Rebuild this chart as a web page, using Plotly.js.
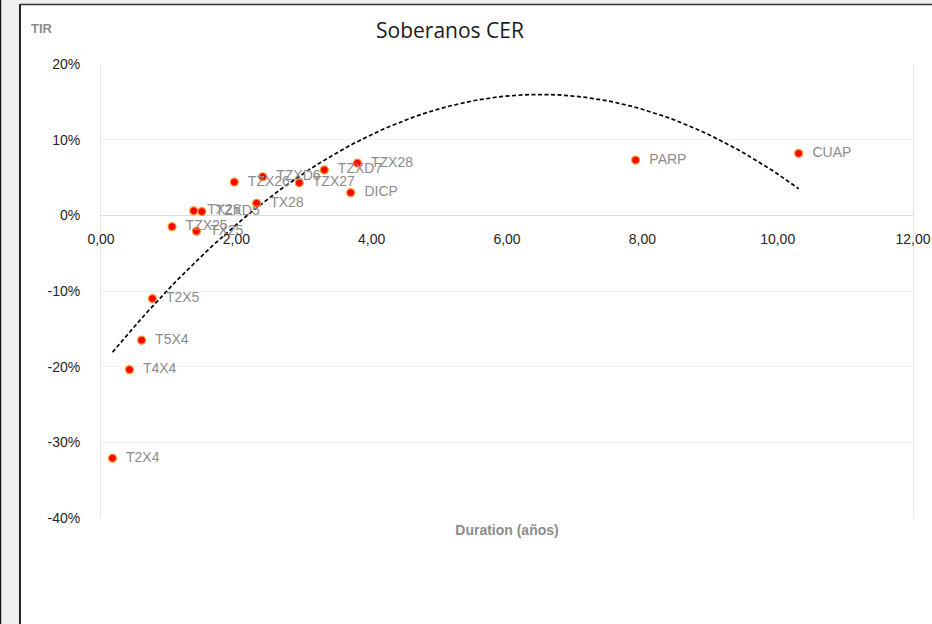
<!DOCTYPE html>
<html>
<head>
<meta charset="utf-8">
<script src="https://cdn.plot.ly/plotly-3.0.1.min.js"></script>
<style>html,body{margin:0;padding:0;background:#fff;}#chart{width:932px;height:624px;}</style>
</head>
<body>
<div id="chart"></div>
<script>
// Bond names, duration (years) and TIR (yield)
var bonds    = ["T2X4", "T4X4", "T5X4", "T2X5", "TZX25", "TX25", "TX26", "TZXD5", "TX28", "TZX26", "TZXD6", "TZX27", "TZXD7", "TZX28", "DICP", "PARP", "CUAP"];
var duration = [0.17, 0.42, 0.60, 0.76, 1.05, 1.41, 1.37, 1.49, 2.30, 1.97, 2.39, 2.93, 3.30, 3.79, 3.69, 7.90, 10.31];
var tir      = [-0.321, -0.204, -0.165, -0.110, -0.015, -0.021, 0.006, 0.005, 0.016, 0.044, 0.051, 0.043, 0.060, 0.069, 0.030, 0.073, 0.082];
var xTicks   = [0, 2, 4, 6, 8, 10, 12];
var yTicks   = [0.2, 0.1, 0, -0.1, -0.2, -0.3, -0.4];
var yTickText = ["20%", "10%", "0%", "-10%", "-20%", "-30%", "-40%"];

// Polynomial (order 2) trendline fitted to the data, as Excel does
function polyfit2(xs, ys) {
  var n = xs.length, s = [0,0,0,0,0], t = [0,0,0];
  for (var i = 0; i < n; i++) {
    var p = 1;
    for (var k = 0; k < 5; k++) { s[k] += p; if (k < 3) t[k] += p * ys[i]; p *= xs[i]; }
  }
  var A = [[s[0], s[1], s[2], t[0]], [s[1], s[2], s[3], t[1]], [s[2], s[3], s[4], t[2]]];
  for (var c = 0; c < 3; c++) {
    for (var r = c + 1; r < 3; r++) {
      var f = A[r][c] / A[c][c];
      for (var j = c; j < 4; j++) A[r][j] -= f * A[c][j];
    }
  }
  var b = [0,0,0];
  for (var r2 = 2; r2 >= 0; r2--) {
    var v = A[r2][3];
    for (var j2 = r2 + 1; j2 < 3; j2++) v -= A[r2][j2] * b[j2];
    b[r2] = v / A[r2][r2];
  }
  return b;
}
var coef = polyfit2(duration, tir);
var xmin = Math.min.apply(null, duration), xmax = Math.max.apply(null, duration);
var trendX = [], trendY = [];
for (var i = 0; i <= 100; i++) {
  var xv = xmin + (xmax - xmin) * i / 100;
  trendX.push(xv);
  trendY.push(coef[0] + coef[1] * xv + coef[2] * xv * xv);
}

var L = 101, R = 19, T = 64, B = 106, W = 932, H = 624;
var pw = W - L - R, ph = H - T - B;
function px(x) { return (x - L) / pw; }
function py(y) { return (H - B - y) / ph; }

var traces = [
  {
    x: trendX, y: trendY, mode: "lines", type: "scatter",
    line: {color: "#000000", width: 1.7, dash: "4px,2.5px"},
    hoverinfo: "skip", showlegend: false
  },
  {
    x: duration, y: tir, text: bonds.map(function(b){ return "  " + b; }),
    mode: "markers+text", type: "scatter", textposition: "middle right",
    textfont: {family: "Liberation Sans, Arial, sans-serif", size: 14, color: "#8c8c8c"},
    marker: {color: "#ff0000", size: 8, line: {color: "#ff9a2e", width: 1.2}},
    showlegend: false, cliponaxis: false
  },
  {
    x: [], y: [], xaxis: "x2", yaxis: "y", type: "scatter", mode: "markers", showlegend: false
  }
];

var layout = {
  width: W, height: H,
  margin: {l: L, r: R, t: T, b: B, pad: 0},
  paper_bgcolor: "#ffffff", plot_bgcolor: "#ffffff",
  separators: ",.",
  font: {family: "Liberation Sans, Arial, sans-serif", color: "#262626"},
  title: {
    text: "Soberanos CER",
    font: {family: "Open Sans, Liberation Sans, sans-serif", size: 21, color: "#1a1a1a"},
    x: 450 / W, xanchor: "center", xref: "container",
    y: 1 - 31 / H, yanchor: "middle", yref: "container"
  },
  xaxis: {
    range: [0, 12], showgrid: false, zeroline: false, showticklabels: false,
    ticks: "", showline: false, fixedrange: true,
    title: {text: "<b>Duration (años)</b>", font: {size: 14, color: "#8c8c8c"}, standoff: 7},
    automargin: false
  },
  xaxis2: {
    range: [0, 12], overlaying: "x", anchor: "free",
    position: 0.4 / 0.6, side: "bottom",
    tickvals: xTicks, tickformat: ".2f", ticks: "", showgrid: false,
    zeroline: false, showline: false, ticklabelstandoff: 14,
    tickfont: {size: 14, color: "#262626"}, automargin: false
  },
  yaxis: {
    range: [-0.4, 0.2], tickvals: yTicks, ticktext: yTickText,
    showgrid: true, gridcolor: "#efefef", gridwidth: 1,
    zeroline: true, zerolinecolor: "#dcdcdc", zerolinewidth: 1,
    showline: true, linecolor: "#e6e6e6", linewidth: 1, mirror: true,
    ticks: "", ticklabelstandoff: 17,
    tickfont: {size: 14, color: "#262626"}, automargin: false
  },
  annotations: [
    {
      text: "<b>TIR</b>", xref: "paper", yref: "paper",
      x: px(42), y: py(29), xanchor: "center", yanchor: "middle",
      showarrow: false, font: {size: 13, color: "#8c8c8c"}
    }
  ],
  shapes: [
    {type: "rect", xref: "paper", yref: "paper", x0: px(0), x1: px(W), y0: py(0), y1: py(4), fillcolor: "#f0f0f0", line: {width: 0}, layer: "below"},
    {type: "rect", xref: "paper", yref: "paper", x0: px(0), x1: px(20), y0: py(0), y1: py(H), fillcolor: "#f0f0f0", line: {width: 0}, layer: "below"},
    {type: "line", xref: "paper", yref: "paper", x0: px(0.5), x1: px(0.5), y0: py(0), y1: py(H), line: {color: "#1a1a1a", width: 1.5}},
    {type: "line", xref: "paper", yref: "paper", x0: px(20), x1: px(20), y0: py(4), y1: py(H), line: {color: "#262626", width: 2}},
    {type: "line", xref: "paper", yref: "paper", x0: px(20), x1: px(W), y0: py(4.5), y1: py(4.5), line: {color: "#333333", width: 1.5}}
  ]
};

Plotly.newPlot("chart", traces, layout, {displayModeBar: false, staticPlot: true});
</script>
</body>
</html>
